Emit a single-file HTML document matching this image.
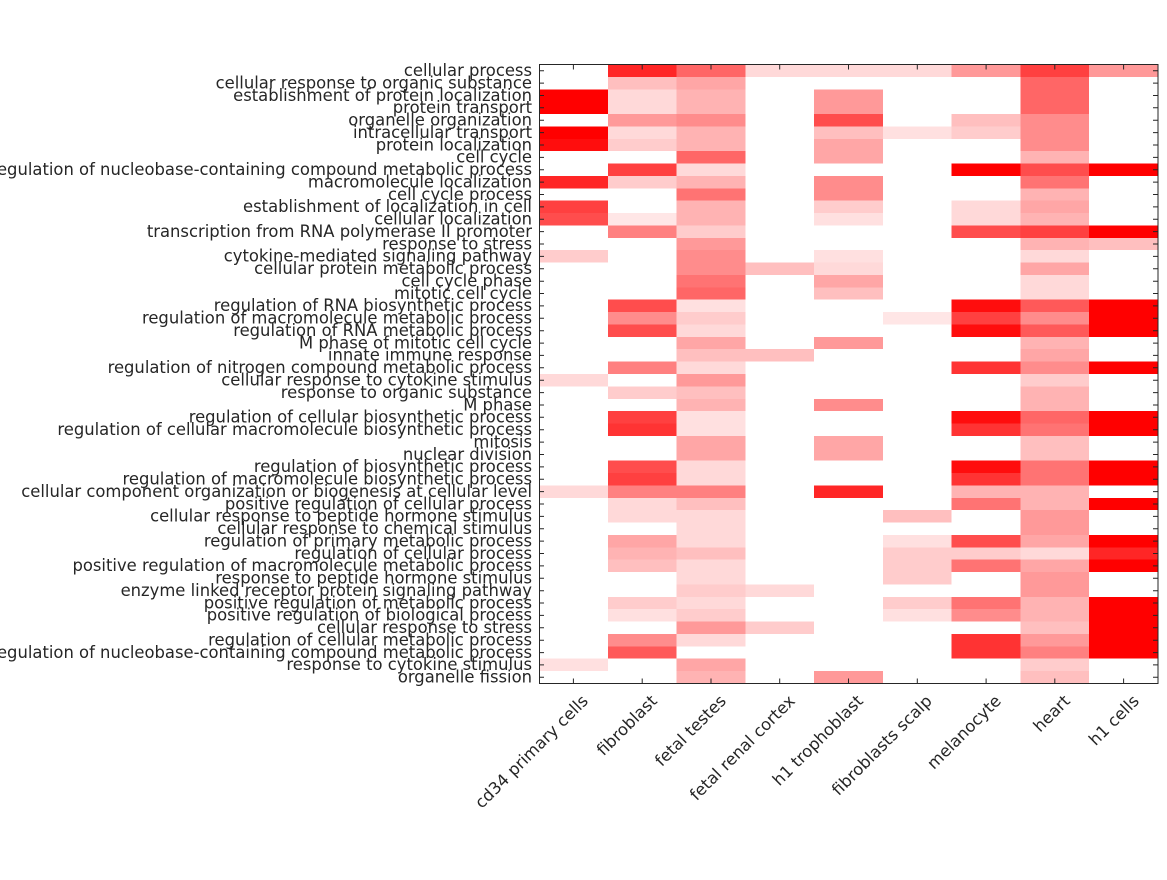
<!DOCTYPE html>
<html><head><meta charset="utf-8"><style>
html,body{margin:0;padding:0;background:#fff;}
svg text{font-family:"DejaVu Sans","Liberation Sans",sans-serif;font-size:16.4px;fill:#262626;}
</style></head><body>
<svg width="1167" height="875" xmlns="http://www.w3.org/2000/svg">
<rect width="1167" height="875" fill="#fff"/>
<svg x="539" y="64.5" width="619" height="619" viewBox="0 0 9 50" preserveAspectRatio="none" shape-rendering="crispEdges">
<g>
<rect x="1" y="0" width="1" height="1" fill="rgb(255,38,38)"/><rect x="2" y="0" width="1" height="1" fill="rgb(255,102,102)"/><rect x="3" y="0" width="3" height="1" fill="rgb(255,217,217)"/><rect x="6" y="0" width="1" height="1" fill="rgb(255,153,153)"/><rect x="7" y="0" width="1" height="1" fill="rgb(255,64,64)"/><rect x="8" y="0" width="1" height="1" fill="rgb(255,153,153)"/>
<rect x="1" y="1" width="1" height="1" fill="rgb(255,191,191)"/><rect x="2" y="1" width="1" height="1" fill="rgb(255,166,166)"/><rect x="7" y="1" width="1" height="1" fill="rgb(255,102,102)"/>
<rect x="0" y="2" width="1" height="2" fill="rgb(255,0,0)"/><rect x="1" y="2" width="1" height="2" fill="rgb(255,217,217)"/><rect x="2" y="2" width="1" height="2" fill="rgb(255,179,179)"/><rect x="4" y="2" width="1" height="2" fill="rgb(255,153,153)"/><rect x="7" y="2" width="1" height="2" fill="rgb(255,102,102)"/>
<rect x="1" y="4" width="1" height="1" fill="rgb(255,153,153)"/><rect x="2" y="4" width="1" height="1" fill="rgb(255,140,140)"/><rect x="4" y="4" width="1" height="1" fill="rgb(255,77,77)"/><rect x="6" y="4" width="1" height="1" fill="rgb(255,191,191)"/><rect x="7" y="4" width="1" height="1" fill="rgb(255,140,140)"/>
<rect x="0" y="5" width="1" height="1" fill="rgb(255,0,0)"/><rect x="1" y="5" width="1" height="1" fill="rgb(255,217,217)"/><rect x="2" y="5" width="1" height="1" fill="rgb(255,179,179)"/><rect x="4" y="5" width="1" height="1" fill="rgb(255,191,191)"/><rect x="5" y="5" width="1" height="1" fill="rgb(255,224,224)"/><rect x="6" y="5" width="1" height="1" fill="rgb(255,204,204)"/><rect x="7" y="5" width="1" height="1" fill="rgb(255,140,140)"/>
<rect x="0" y="6" width="1" height="1" fill="rgb(255,13,13)"/><rect x="1" y="6" width="1" height="1" fill="rgb(255,204,204)"/><rect x="2" y="6" width="1" height="1" fill="rgb(255,179,179)"/><rect x="4" y="6" width="1" height="1" fill="rgb(255,166,166)"/><rect x="7" y="6" width="1" height="1" fill="rgb(255,140,140)"/>
<rect x="2" y="7" width="1" height="1" fill="rgb(255,102,102)"/><rect x="4" y="7" width="1" height="1" fill="rgb(255,166,166)"/><rect x="7" y="7" width="1" height="1" fill="rgb(255,179,179)"/>
<rect x="1" y="8" width="1" height="1" fill="rgb(255,64,64)"/><rect x="2" y="8" width="1" height="1" fill="rgb(255,217,217)"/><rect x="6" y="8" width="1" height="1" fill="rgb(255,0,0)"/><rect x="7" y="8" width="1" height="1" fill="rgb(255,77,77)"/><rect x="8" y="8" width="1" height="1" fill="rgb(255,0,0)"/>
<rect x="0" y="9" width="1" height="1" fill="rgb(255,38,38)"/><rect x="1" y="9" width="1" height="1" fill="rgb(255,204,204)"/><rect x="2" y="9" width="1" height="1" fill="rgb(255,179,179)"/><rect x="4" y="9" width="1" height="1" fill="rgb(255,140,140)"/><rect x="7" y="9" width="1" height="1" fill="rgb(255,115,115)"/>
<rect x="2" y="10" width="1" height="1" fill="rgb(255,115,115)"/><rect x="4" y="10" width="1" height="1" fill="rgb(255,140,140)"/><rect x="7" y="10" width="1" height="1" fill="rgb(255,179,179)"/>
<rect x="0" y="11" width="1" height="1" fill="rgb(255,64,64)"/><rect x="2" y="11" width="1" height="1" fill="rgb(255,179,179)"/><rect x="4" y="11" width="1" height="1" fill="rgb(255,204,204)"/><rect x="6" y="11" width="1" height="1" fill="rgb(255,217,217)"/><rect x="7" y="11" width="1" height="1" fill="rgb(255,166,166)"/>
<rect x="0" y="12" width="1" height="1" fill="rgb(255,77,77)"/><rect x="1" y="12" width="1" height="1" fill="rgb(255,230,230)"/><rect x="2" y="12" width="1" height="1" fill="rgb(255,179,179)"/><rect x="4" y="12" width="1" height="1" fill="rgb(255,224,224)"/><rect x="6" y="12" width="1" height="1" fill="rgb(255,217,217)"/><rect x="7" y="12" width="1" height="1" fill="rgb(255,179,179)"/>
<rect x="1" y="13" width="1" height="1" fill="rgb(255,128,128)"/><rect x="2" y="13" width="1" height="1" fill="rgb(255,204,204)"/><rect x="6" y="13" width="1" height="1" fill="rgb(255,77,77)"/><rect x="7" y="13" width="1" height="1" fill="rgb(255,64,64)"/><rect x="8" y="13" width="1" height="1" fill="rgb(255,0,0)"/>
<rect x="2" y="14" width="1" height="1" fill="rgb(255,153,153)"/><rect x="7" y="14" width="1" height="1" fill="rgb(255,179,179)"/><rect x="8" y="14" width="1" height="1" fill="rgb(255,191,191)"/>
<rect x="0" y="15" width="1" height="1" fill="rgb(255,204,204)"/><rect x="2" y="15" width="1" height="1" fill="rgb(255,140,140)"/><rect x="4" y="15" width="1" height="1" fill="rgb(255,224,224)"/><rect x="7" y="15" width="1" height="1" fill="rgb(255,217,217)"/>
<rect x="2" y="16" width="1" height="1" fill="rgb(255,140,140)"/><rect x="3" y="16" width="1" height="1" fill="rgb(255,191,191)"/><rect x="4" y="16" width="1" height="1" fill="rgb(255,217,217)"/><rect x="7" y="16" width="1" height="1" fill="rgb(255,166,166)"/>
<rect x="2" y="17" width="1" height="1" fill="rgb(255,115,115)"/><rect x="4" y="17" width="1" height="1" fill="rgb(255,166,166)"/><rect x="7" y="17" width="1" height="1" fill="rgb(255,217,217)"/>
<rect x="2" y="18" width="1" height="1" fill="rgb(255,102,102)"/><rect x="4" y="18" width="1" height="1" fill="rgb(255,191,191)"/><rect x="7" y="18" width="1" height="1" fill="rgb(255,217,217)"/>
<rect x="1" y="19" width="1" height="1" fill="rgb(255,77,77)"/><rect x="2" y="19" width="1" height="1" fill="rgb(255,224,224)"/><rect x="6" y="19" width="1" height="1" fill="rgb(255,13,13)"/><rect x="7" y="19" width="1" height="1" fill="rgb(255,89,89)"/><rect x="8" y="19" width="1" height="3" fill="rgb(255,0,0)"/>
<rect x="1" y="20" width="1" height="1" fill="rgb(255,140,140)"/><rect x="2" y="20" width="1" height="1" fill="rgb(255,204,204)"/><rect x="5" y="20" width="1" height="1" fill="rgb(255,230,230)"/><rect x="6" y="20" width="1" height="1" fill="rgb(255,64,64)"/><rect x="7" y="20" width="1" height="1" fill="rgb(255,140,140)"/>
<rect x="1" y="21" width="1" height="1" fill="rgb(255,77,77)"/><rect x="2" y="21" width="1" height="1" fill="rgb(255,217,217)"/><rect x="6" y="21" width="1" height="1" fill="rgb(255,13,13)"/><rect x="7" y="21" width="1" height="1" fill="rgb(255,89,89)"/>
<rect x="2" y="22" width="1" height="1" fill="rgb(255,166,166)"/><rect x="4" y="22" width="1" height="1" fill="rgb(255,153,153)"/><rect x="7" y="22" width="1" height="1" fill="rgb(255,179,179)"/>
<rect x="2" y="23" width="1" height="1" fill="rgb(255,191,191)"/><rect x="3" y="23" width="1" height="1" fill="rgb(255,191,191)"/><rect x="7" y="23" width="1" height="1" fill="rgb(255,166,166)"/>
<rect x="1" y="24" width="1" height="1" fill="rgb(255,128,128)"/><rect x="2" y="24" width="1" height="1" fill="rgb(255,217,217)"/><rect x="6" y="24" width="1" height="1" fill="rgb(255,51,51)"/><rect x="7" y="24" width="1" height="1" fill="rgb(255,140,140)"/><rect x="8" y="24" width="1" height="1" fill="rgb(255,0,0)"/>
<rect x="0" y="25" width="1" height="1" fill="rgb(255,217,217)"/><rect x="2" y="25" width="1" height="1" fill="rgb(255,153,153)"/><rect x="7" y="25" width="1" height="1" fill="rgb(255,204,204)"/>
<rect x="1" y="26" width="1" height="1" fill="rgb(255,204,204)"/><rect x="2" y="26" width="1" height="1" fill="rgb(255,191,191)"/><rect x="7" y="26" width="1" height="1" fill="rgb(255,179,179)"/>
<rect x="2" y="27" width="1" height="1" fill="rgb(255,179,179)"/><rect x="4" y="27" width="1" height="1" fill="rgb(255,140,140)"/><rect x="7" y="27" width="1" height="1" fill="rgb(255,179,179)"/>
<rect x="1" y="28" width="1" height="1" fill="rgb(255,64,64)"/><rect x="2" y="28" width="1" height="2" fill="rgb(255,224,224)"/><rect x="6" y="28" width="1" height="1" fill="rgb(255,13,13)"/><rect x="7" y="28" width="1" height="1" fill="rgb(255,102,102)"/><rect x="8" y="28" width="1" height="2" fill="rgb(255,0,0)"/>
<rect x="1" y="29" width="1" height="1" fill="rgb(255,51,51)"/><rect x="6" y="29" width="1" height="1" fill="rgb(255,51,51)"/><rect x="7" y="29" width="1" height="1" fill="rgb(255,115,115)"/>
<rect x="2" y="30" width="1" height="2" fill="rgb(255,166,166)"/><rect x="4" y="30" width="1" height="2" fill="rgb(255,166,166)"/><rect x="7" y="30" width="1" height="2" fill="rgb(255,191,191)"/>
<rect x="1" y="32" width="1" height="1" fill="rgb(255,77,77)"/><rect x="2" y="32" width="1" height="2" fill="rgb(255,217,217)"/><rect x="6" y="32" width="1" height="1" fill="rgb(255,13,13)"/><rect x="7" y="32" width="1" height="1" fill="rgb(255,115,115)"/><rect x="8" y="32" width="1" height="2" fill="rgb(255,0,0)"/>
<rect x="1" y="33" width="1" height="1" fill="rgb(255,64,64)"/><rect x="6" y="33" width="1" height="1" fill="rgb(255,51,51)"/><rect x="7" y="33" width="1" height="1" fill="rgb(255,115,115)"/>
<rect x="0" y="34" width="1" height="1" fill="rgb(255,217,217)"/><rect x="1" y="34" width="1" height="1" fill="rgb(255,128,128)"/><rect x="2" y="34" width="1" height="1" fill="rgb(255,128,128)"/><rect x="4" y="34" width="1" height="1" fill="rgb(255,38,38)"/><rect x="6" y="34" width="1" height="1" fill="rgb(255,179,179)"/><rect x="7" y="34" width="1" height="1" fill="rgb(255,179,179)"/>
<rect x="1" y="35" width="1" height="1" fill="rgb(255,217,217)"/><rect x="2" y="35" width="1" height="1" fill="rgb(255,191,191)"/><rect x="6" y="35" width="1" height="1" fill="rgb(255,115,115)"/><rect x="7" y="35" width="1" height="1" fill="rgb(255,179,179)"/><rect x="8" y="35" width="1" height="1" fill="rgb(255,0,0)"/>
<rect x="1" y="36" width="1" height="1" fill="rgb(255,217,217)"/><rect x="2" y="36" width="1" height="2" fill="rgb(255,217,217)"/><rect x="5" y="36" width="1" height="1" fill="rgb(255,191,191)"/><rect x="7" y="36" width="1" height="2" fill="rgb(255,153,153)"/>
<rect x="1" y="38" width="1" height="1" fill="rgb(255,166,166)"/><rect x="2" y="38" width="1" height="1" fill="rgb(255,217,217)"/><rect x="5" y="38" width="1" height="1" fill="rgb(255,224,224)"/><rect x="6" y="38" width="1" height="1" fill="rgb(255,77,77)"/><rect x="7" y="38" width="1" height="1" fill="rgb(255,166,166)"/><rect x="8" y="38" width="1" height="1" fill="rgb(255,0,0)"/>
<rect x="1" y="39" width="1" height="1" fill="rgb(255,179,179)"/><rect x="2" y="39" width="1" height="1" fill="rgb(255,191,191)"/><rect x="5" y="39" width="1" height="1" fill="rgb(255,204,204)"/><rect x="6" y="39" width="1" height="1" fill="rgb(255,204,204)"/><rect x="7" y="39" width="1" height="1" fill="rgb(255,217,217)"/><rect x="8" y="39" width="1" height="1" fill="rgb(255,38,38)"/>
<rect x="1" y="40" width="1" height="1" fill="rgb(255,191,191)"/><rect x="2" y="40" width="1" height="1" fill="rgb(255,217,217)"/><rect x="5" y="40" width="1" height="2" fill="rgb(255,204,204)"/><rect x="6" y="40" width="1" height="1" fill="rgb(255,115,115)"/><rect x="7" y="40" width="1" height="1" fill="rgb(255,166,166)"/><rect x="8" y="40" width="1" height="1" fill="rgb(255,0,0)"/>
<rect x="2" y="41" width="1" height="1" fill="rgb(255,217,217)"/><rect x="7" y="41" width="1" height="2" fill="rgb(255,153,153)"/>
<rect x="2" y="42" width="1" height="1" fill="rgb(255,204,204)"/><rect x="3" y="42" width="1" height="1" fill="rgb(255,217,217)"/>
<rect x="1" y="43" width="1" height="1" fill="rgb(255,204,204)"/><rect x="2" y="43" width="1" height="1" fill="rgb(255,217,217)"/><rect x="5" y="43" width="1" height="1" fill="rgb(255,204,204)"/><rect x="6" y="43" width="1" height="1" fill="rgb(255,115,115)"/><rect x="7" y="43" width="1" height="1" fill="rgb(255,179,179)"/><rect x="8" y="43" width="1" height="5" fill="rgb(255,0,0)"/>
<rect x="1" y="44" width="1" height="1" fill="rgb(255,224,224)"/><rect x="2" y="44" width="1" height="1" fill="rgb(255,204,204)"/><rect x="5" y="44" width="1" height="1" fill="rgb(255,224,224)"/><rect x="6" y="44" width="1" height="1" fill="rgb(255,140,140)"/><rect x="7" y="44" width="1" height="1" fill="rgb(255,179,179)"/>
<rect x="2" y="45" width="1" height="1" fill="rgb(255,153,153)"/><rect x="3" y="45" width="1" height="1" fill="rgb(255,204,204)"/><rect x="7" y="45" width="1" height="1" fill="rgb(255,191,191)"/>
<rect x="1" y="46" width="1" height="1" fill="rgb(255,140,140)"/><rect x="2" y="46" width="1" height="1" fill="rgb(255,217,217)"/><rect x="6" y="46" width="1" height="2" fill="rgb(255,51,51)"/><rect x="7" y="46" width="1" height="1" fill="rgb(255,153,153)"/>
<rect x="1" y="47" width="1" height="1" fill="rgb(255,89,89)"/><rect x="7" y="47" width="1" height="1" fill="rgb(255,128,128)"/>
<rect x="0" y="48" width="1" height="1" fill="rgb(255,224,224)"/><rect x="2" y="48" width="1" height="1" fill="rgb(255,166,166)"/><rect x="7" y="48" width="1" height="1" fill="rgb(255,204,204)"/>
<rect x="2" y="49" width="1" height="1" fill="rgb(255,179,179)"/><rect x="4" y="49" width="1" height="1" fill="rgb(255,153,153)"/><rect x="7" y="49" width="1" height="1" fill="rgb(255,191,191)"/>
</g>
</svg>
<rect x="539.5" y="64.5" width="618.5" height="619" fill="none" stroke="#262626" stroke-width="1"/>
<g stroke="#262626" stroke-width="1">
<path d="M539 70.7h5M539 83.1h5M539 95.5h5M539 107.8h5M539 120.2h5M539 132.6h5M539 145h5M539 157.4h5M539 169.7h5M539 182.1h5M539 194.5h5M539 206.9h5M539 219.3h5M539 231.6h5M539 244h5M539 256.4h5M539 268.8h5M539 281.2h5M539 293.5h5M539 305.9h5M539 318.3h5M539 330.7h5M539 343.1h5M539 355.4h5M539 367.8h5M539 380.2h5M539 392.6h5M539 405h5M539 417.3h5M539 429.7h5M539 442.1h5M539 454.5h5M539 466.9h5M539 479.2h5M539 491.6h5M539 504h5M539 516.4h5M539 528.8h5M539 541.1h5M539 553.5h5M539 565.9h5M539 578.3h5M539 590.7h5M539 603h5M539 615.4h5M539 627.8h5M539 640.2h5M539 652.6h5M539 664.9h5M539 677.3h5"/>
<path d="M1158 70.7h-5M1158 83.1h-5M1158 95.5h-5M1158 107.8h-5M1158 120.2h-5M1158 132.6h-5M1158 145h-5M1158 157.4h-5M1158 169.7h-5M1158 182.1h-5M1158 194.5h-5M1158 206.9h-5M1158 219.3h-5M1158 231.6h-5M1158 244h-5M1158 256.4h-5M1158 268.8h-5M1158 281.2h-5M1158 293.5h-5M1158 305.9h-5M1158 318.3h-5M1158 330.7h-5M1158 343.1h-5M1158 355.4h-5M1158 367.8h-5M1158 380.2h-5M1158 392.6h-5M1158 405h-5M1158 417.3h-5M1158 429.7h-5M1158 442.1h-5M1158 454.5h-5M1158 466.9h-5M1158 479.2h-5M1158 491.6h-5M1158 504h-5M1158 516.4h-5M1158 528.8h-5M1158 541.1h-5M1158 553.5h-5M1158 565.9h-5M1158 578.3h-5M1158 590.7h-5M1158 603h-5M1158 615.4h-5M1158 627.8h-5M1158 640.2h-5M1158 652.6h-5M1158 664.9h-5M1158 677.3h-5"/>
<path d="M573.4 64.5v5M642.2 64.5v5M711 64.5v5M779.7 64.5v5M848.5 64.5v5M917.3 64.5v5M986.1 64.5v5M1054.8 64.5v5M1123.6 64.5v5"/>
<path d="M573.4 683.5v-5M642.2 683.5v-5M711 683.5v-5M779.7 683.5v-5M848.5 683.5v-5M917.3 683.5v-5M986.1 683.5v-5M1054.8 683.5v-5M1123.6 683.5v-5"/>
</g>
<g text-anchor="end">
<text x="532" y="76">cellular process</text>
<text x="532" y="88.4">cellular response to organic substance</text>
<text x="532" y="100.8">establishment of protein localization</text>
<text x="532" y="113.1">protein transport</text>
<text x="532" y="125.5">organelle organization</text>
<text x="532" y="137.9">intracellular transport</text>
<text x="532" y="150.3">protein localization</text>
<text x="532" y="162.7">cell cycle</text>
<text x="532" y="175">regulation of nucleobase-containing compound metabolic process</text>
<text x="532" y="187.4">macromolecule localization</text>
<text x="532" y="199.8">cell cycle process</text>
<text x="532" y="212.2">establishment of localization in cell</text>
<text x="532" y="224.6">cellular localization</text>
<text x="532" y="236.9">transcription from RNA polymerase II promoter</text>
<text x="532" y="249.3">response to stress</text>
<text x="532" y="261.7">cytokine-mediated signaling pathway</text>
<text x="532" y="274.1">cellular protein metabolic process</text>
<text x="532" y="286.5">cell cycle phase</text>
<text x="532" y="298.8">mitotic cell cycle</text>
<text x="532" y="311.2">regulation of RNA biosynthetic process</text>
<text x="532" y="323.6">regulation of macromolecule metabolic process</text>
<text x="532" y="336">regulation of RNA metabolic process</text>
<text x="532" y="348.4">M phase of mitotic cell cycle</text>
<text x="532" y="360.7">innate immune response</text>
<text x="532" y="373.1">regulation of nitrogen compound metabolic process</text>
<text x="532" y="385.5">cellular response to cytokine stimulus</text>
<text x="532" y="397.9">response to organic substance</text>
<text x="532" y="410.3">M phase</text>
<text x="532" y="422.6">regulation of cellular biosynthetic process</text>
<text x="532" y="435">regulation of cellular macromolecule biosynthetic process</text>
<text x="532" y="447.4">mitosis</text>
<text x="532" y="459.8">nuclear division</text>
<text x="532" y="472.2">regulation of biosynthetic process</text>
<text x="532" y="484.5">regulation of macromolecule biosynthetic process</text>
<text x="532" y="496.9">cellular component organization or biogenesis at cellular level</text>
<text x="532" y="509.3">positive regulation of cellular process</text>
<text x="532" y="521.7">cellular response to peptide hormone stimulus</text>
<text x="532" y="534.1">cellular response to chemical stimulus</text>
<text x="532" y="546.4">regulation of primary metabolic process</text>
<text x="532" y="558.8">regulation of cellular process</text>
<text x="532" y="571.2">positive regulation of macromolecule metabolic process</text>
<text x="532" y="583.6">response to peptide hormone stimulus</text>
<text x="532" y="596">enzyme linked receptor protein signaling pathway</text>
<text x="532" y="608.3">positive regulation of metabolic process</text>
<text x="532" y="620.7">positive regulation of biological process</text>
<text x="532" y="633.1">cellular response to stress</text>
<text x="532" y="645.5">regulation of cellular metabolic process</text>
<text x="532" y="657.9">regulation of nucleobase-containing compound metabolic process</text>
<text x="532" y="670.2">response to cytokine stimulus</text>
<text x="532" y="682.6">organelle fission</text>
</g>
<g text-anchor="end">
<text transform="translate(589,702) rotate(-45)">cd34 primary cells</text>
<text transform="translate(658,702) rotate(-45)">fibroblast</text>
<text transform="translate(727,702) rotate(-45)">fetal testes</text>
<text transform="translate(796,702) rotate(-45)">fetal renal cortex</text>
<text transform="translate(864,702) rotate(-45)">h1 trophoblast</text>
<text transform="translate(933,702) rotate(-45)">fibroblasts scalp</text>
<text transform="translate(1002,702) rotate(-45)">melanocyte</text>
<text transform="translate(1071,702) rotate(-45)">heart</text>
<text transform="translate(1140,702) rotate(-45)">h1 cells</text>
</g>
</svg>
</body></html>
